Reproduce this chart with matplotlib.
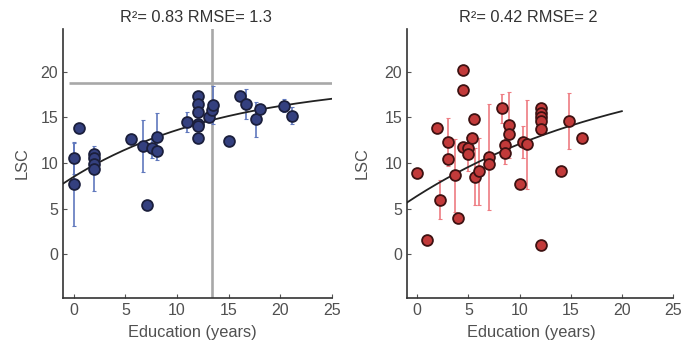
import numpy as np
import matplotlib
matplotlib.use("Agg")
import matplotlib.pyplot as plt

plt.rcParams["font.family"] = ["Liberation Sans", "DejaVu Sans"]

# ---- Left panel: education vs LSC (blue group) ----
left_x = [0, 0, 0.5, 2, 2, 2, 2, 5.5, 6.65, 7.07, 7.56, 8.04, 8.04, 11.0,
          12, 12, 12, 12, 12, 12, 13.1, 13.35, 13.5, 15.0, 16.1, 16.7, 17.6,
          18.0, 20.4, 21.1]
left_y = [10.5, 7.7, 13.85, 11.0, 10.5, 9.9, 9.4, 12.6, 11.85, 5.4, 11.6, 12.9,
          11.3, 14.5, 17.4, 16.5, 15.6, 14.3, 14.1, 12.8, 15.05, 15.8, 16.4,
          12.4, 17.3, 16.5, 14.8, 15.9, 16.3, 15.2]
left_err = [1.7, 4.6, 0.5, 0.0, 0.0, 0.0, 2.45, 0.4, 2.85, 0.0, 1.0, 2.6,
            0.0, 1.1, 0.0, 0.0, 0.0, 0.0, 0.0, 0.0, 0.6, 0.0, 2.1, 0.0,
            0.0, 1.65, 1.9, 0.0, 0.7, 0.9]
left_fit = [19.05, 10.55, 0.0665]      # A - B*exp(-k*x)
left_title = "R²= 0.83 RMSE= 1.3"
left_hline = 18.8
left_vline = 13.4

# ---- Right panel: education vs LSC (red group) ----
right_x = [0, 0.95, 1.92, 2.25, 2.96, 2.96, 3.65, 3.94, 4.52, 4.52, 4.52, 5.0,
           5.0, 5.34, 5.5, 5.6, 6.05, 7.06, 7.06, 8.27, 8.6, 8.6, 8.98, 8.98,
           10.06, 10.3, 10.7, 12.1, 12.1, 12.1, 12.1, 12.1, 12.1, 14.1, 14.85,
           16.15]
right_y = [8.96, 1.6, 13.85, 6.0, 12.3, 10.4, 8.66, 4.0, 20.25, 18.0, 11.8, 11.7,
           11.0, 12.75, 14.8, 8.5, 9.1, 10.67, 9.87, 16.0, 11.95, 11.15, 14.15,
           13.2, 7.7, 12.3, 12.05, 16.0, 15.5, 15.05, 14.6, 13.7, 1.06, 9.1,
           14.6, 12.8]
right_err = [0.0, 0.0, 0.0, 2.1, 2.6, 0.0, 4.0, 0.0, 0.0, 0.0, 0.0, 0.0,
             1.9, 0.0, 0.0, 3.1, 3.7, 5.8, 0.0, 1.6, 2.0, 0.0, 3.6, 0.0,
             0.0, 1.8, 4.85, 0.0, 0.0, 0.0, 0.0, 0.0, 0.0, 0.0, 3.05, 0.0]
right_fit = [21.8, 15.4, 0.0462]
right_title = "R²= 0.42 RMSE= 2"

x_ticks = [0, 5, 10, 15, 20, 25]
y_ticks = [0, 5, 10, 15, 20]

W, H = 685, 342
fig = plt.figure(figsize=(W / 100, H / 100), dpi=100)

ax_l = fig.add_axes([63 / W, 1 - 298 / H, 269 / W, 269 / H])
ax_r = fig.add_axes([407 / W, 1 - 298 / H, 266 / W, 269 / H])

TXT = "#505050"


def style(ax, xlim):
    ax.set_xlim(*xlim)
    ax.set_ylim(-4.8, 24.7)
    ax.set_xticks(x_ticks)
    ax.set_yticks(y_ticks)
    for s in ("top", "right"):
        ax.spines[s].set_visible(False)
    for s in ("left", "bottom"):
        ax.spines[s].set_color("#333333")
        ax.spines[s].set_linewidth(1.2)
    ax.tick_params(direction="in", length=3, width=0.8, color="#555555",
                   labelsize=11.5, labelcolor=TXT, pad=3.5)


def panel(ax, x, y, err, fit, x_end, face, edge, ecol):
    x = np.asarray(x)
    y = np.asarray(y)
    err = np.asarray(err)
    m = err > 0
    ax.errorbar(x[m], y[m], yerr=err[m], fmt="none", ecolor=ecol,
                elinewidth=1.2, capsize=1.5, capthick=0.8, zorder=2)
    xx = np.linspace(-1, x_end, 200)
    A, B, k = fit
    ax.plot(xx, A - B * np.exp(-k * xx), color="#222222", lw=1.3, zorder=3)
    ax.plot(x, y, "o", ms=7.8, mfc=face, mec=edge, mew=1.3, zorder=4)


style(ax_l, (-1.05, 25))
style(ax_r, (-1.0, 25))

ax_l.plot([-0.5, 25], [left_hline, left_hline], color="#a8a8a8", lw=1.9,
          zorder=1, solid_capstyle="butt")
ax_l.axvline(left_vline, color="#a8a8a8", lw=1.9, zorder=1)

panel(ax_l, left_x, left_y, left_err, left_fit, 25,
      "#34407f", "#1b1f3c", "#6078bd")
panel(ax_r, right_x, right_y, right_err, right_fit, 20,
      "#c23a3a", "#3e1212", "#ee7c82")

fig.text(196 / W, 1 - 18 / H, left_title, ha="center", va="center",
         fontsize=11.8, color="#333333")
fig.text(528 / W, 1 - 18 / H, right_title, ha="center", va="center",
         fontsize=11.8, color="#333333")

for cx in (192, 531):
    fig.text(cx / W, 1 - 332 / H, "Education (years)", ha="center",
             va="center", fontsize=11.8, color=TXT)
for cx in (22, 362):
    fig.text(cx / W, 1 - 163 / H, "LSC", ha="center", va="center",
             rotation=90, fontsize=11.8, color=TXT)

fig.savefig("out.png", dpi=100)
